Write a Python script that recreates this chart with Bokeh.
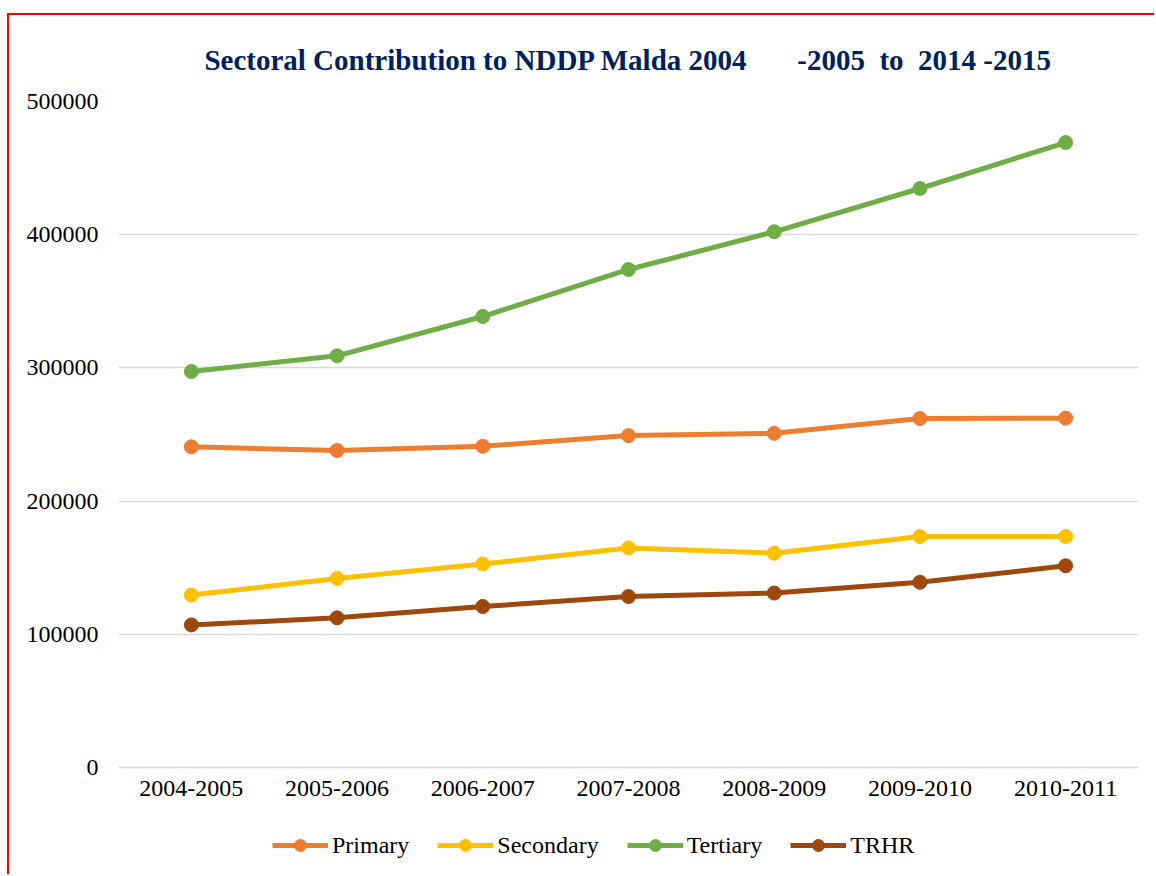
from bokeh.plotting import figure
from bokeh.models import FactorRange, Range1d, FixedTicker, NumeralTickFormatter, Legend, LegendItem
from bokeh.embed import file_html
from bokeh.resources import INLINE

years = ["2004-2005", "2005-2006", "2006-2007", "2007-2008", "2008-2009", "2009-2010", "2010-2011"]
primary = [240800, 238000, 241200, 249200, 250900, 262000, 262300]
secondary = [129500, 142000, 152800, 164900, 160900, 173400, 173400]
tertiary = [297300, 309100, 338600, 373900, 402200, 434700, 469200]
trhr = [107100, 112400, 120900, 128400, 131000, 139100, 151500]
y_ticks = [0, 100000, 200000, 300000, 400000, 500000]

series = [
    ("Primary", primary, "#ED7D31"),
    ("Secondary", secondary, "#FFC000"),
    ("Tertiary", tertiary, "#70AD47"),
    ("TRHR", trhr, "#9E480E"),
]

FONT = "Liberation Serif"
NB = "\u00a0"
title_text = ("Sectoral Contribution to NDDP Malda 2004" + NB * 7 + "-2005" + NB * 2 + "to"
              + NB * 2 + "2014" + NB + "-2015")

# the frame extends below zero so that the legend (inside the frame) sits under the axis
p = figure(width=1147, height=861, x_range=FactorRange(*years), y_range=Range1d(-78000, 500000),
           output_backend="svg", toolbar_location=None,
           min_border_left=109, min_border_right=18, min_border_top=86, min_border_bottom=5,
           margin=(13, 0, 0, 7))
p.styles = {"border-left": "2px solid #ff0000", "border-top": "2px solid #ff0000"}

p.title.text = title_text
p.title.align = "center"
p.title.text_font = FONT
p.title.text_font_size = "29px"
p.title.text_font_style = "bold"
p.title.text_color = "#002060"
p.title.standoff = 52

p.outline_line_color = None
p.background_fill_color = "white"
p.border_fill_color = "white"

p.xgrid.grid_line_color = None
p.ygrid.grid_line_color = "#d9d9d9"
p.ygrid.grid_line_width = 1.5

p.yaxis.ticker = FixedTicker(ticks=y_ticks)
p.yaxis.formatter = NumeralTickFormatter(format="0")
p.xaxis.fixed_location = 0
for ax in (p.xaxis[0], p.yaxis[0]):
    ax.axis_line_color = None
    ax.major_tick_line_color = None
    ax.minor_tick_line_color = None
    ax.major_tick_out = 0
    ax.major_tick_in = 0
    ax.minor_tick_out = 0
    ax.major_label_text_font = FONT
    ax.major_label_text_font_size = "24px"
    ax.major_label_text_color = "#000000"
p.yaxis.major_label_standoff = 20
p.xaxis.major_label_standoff = 13

items = []
for name, vals, color in series:
    r1 = p.line(years, vals, line_color=color, line_width=5)
    r2 = p.scatter(years, vals, size=14, fill_color=color, line_color=color)
    items.append(LegendItem(label=name, renderers=[r1, r2]))

legend = Legend(items=items, orientation="horizontal", location=(154, 11),
                glyph_width=56, glyph_height=30, label_standoff=4, spacing=28,
                padding=0, margin=0, border_line_color=None, background_fill_alpha=0,
                label_text_font=FONT, label_text_font_size="24px", label_text_color="#000000")
p.add_layout(legend, "center")

open("out.html", "w").write(file_html(p, INLINE))
